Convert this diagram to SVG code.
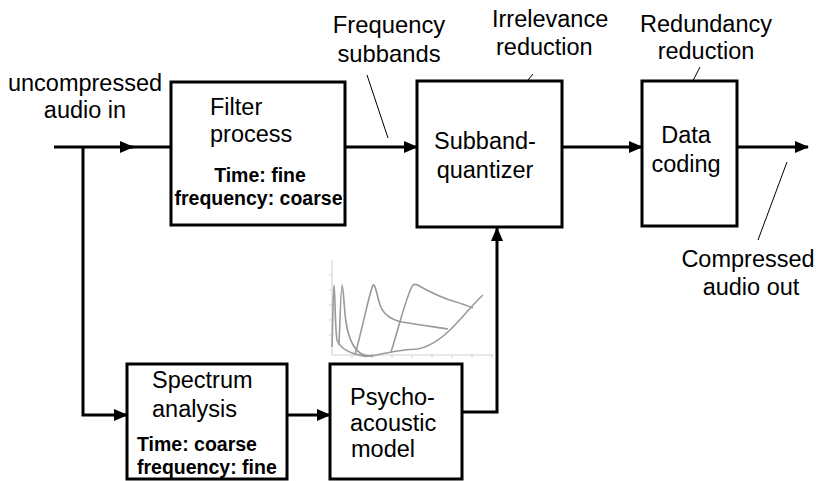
<svg xmlns="http://www.w3.org/2000/svg" width="816" height="481" viewBox="0 0 816 481">
<style>
.box{fill:#fff;stroke:#000;stroke-width:3}
.t{font-family:"Liberation Sans",Arial,sans-serif;font-size:23.5px;fill:#000}
.b{font-family:"Liberation Sans",Arial,sans-serif;font-size:19.5px;font-weight:bold;fill:#000}
.c{fill:none;stroke:#000;stroke-width:3}
.p{fill:none;stroke:#000;stroke-width:1}
.g{fill:none;stroke:#9a9a9a;stroke-width:1.6;stroke-linejoin:round}
.ax{fill:none;stroke:#d0d0d0;stroke-width:1}
</style>
<defs>
<marker id="ah" markerUnits="userSpaceOnUse" markerWidth="14" markerHeight="12" refX="13" refY="6" orient="auto">
<path d="M0,0 L14,6 L0,12 z" fill="#000"/>
</marker>
</defs>
<rect width="816" height="481" fill="#fff"/>

<g id="connectors">
<line class="c" x1="54" y1="147" x2="133" y2="147" marker-end="url(#ah)"/>
<line class="c" x1="128" y1="147" x2="171" y2="147"/>
<path class="c" d="M83,147 V415 H127" marker-end="url(#ah)"/>
<line class="c" x1="345" y1="147" x2="417" y2="147" marker-end="url(#ah)"/>
<line class="c" x1="562" y1="147" x2="642" y2="147" marker-end="url(#ah)"/>
<line class="c" x1="737" y1="147" x2="808" y2="147" marker-end="url(#ah)"/>
<line class="c" x1="287" y1="415" x2="330" y2="415" marker-end="url(#ah)"/>
<path class="c" d="M462,412 H497 V228" marker-end="url(#ah)"/>
<line class="p" x1="367" y1="75" x2="388" y2="138"/>
<line class="p" x1="533" y1="74" x2="497" y2="117"/>
<line class="p" x1="700" y1="67" x2="678" y2="110"/>
<line class="p" x1="787" y1="162" x2="758" y2="240"/>
</g>

<g id="label-in">
<text class="t" x="85" y="91" text-anchor="middle">uncompressed</text>
<text class="t" x="85" y="118" text-anchor="middle">audio in</text>
</g>
<g id="label-subbands">
<text class="t" x="389" y="33" text-anchor="middle" style="font-size:23.8px">Frequency</text>
<text class="t" x="389" y="62" text-anchor="middle" style="font-size:23.8px">subbands</text>
</g>
<g id="label-irrelevance">
<text class="t" x="492" y="27">Irrelevance</text>
<text class="t" x="496" y="55">reduction</text>
</g>
<g id="label-redundancy">
<text class="t" x="706" y="32" text-anchor="middle">Redundancy</text>
<text class="t" x="706" y="59" text-anchor="middle">reduction</text>
</g>
<g id="label-out">
<text class="t" x="748" y="267" text-anchor="middle">Compressed</text>
<text class="t" x="751" y="295" text-anchor="middle">audio out</text>
</g>

<g id="filter">
<rect class="box" x="171" y="82" width="174" height="143"/>
<text class="t" x="210" y="115">Filter</text>
<text class="t" x="210" y="142">process</text>
<text class="b" x="260" y="182" text-anchor="middle">Time: fine</text>
<text class="b" x="258.5" y="205" text-anchor="middle">frequency: coarse</text>
</g>

<g id="quantizer">
<rect class="box" x="417" y="81" width="145" height="146"/>
<text class="t" x="485" y="149" text-anchor="middle">Subband-</text>
<text class="t" x="485" y="178" text-anchor="middle">quantizer</text>
</g>

<g id="datacoding">
<rect class="box" x="642" y="81" width="95" height="145"/>
<text class="t" x="686" y="143" text-anchor="middle">Data</text>
<text class="t" x="686" y="172" text-anchor="middle">coding</text>
</g>

<g id="spectrum">
<rect class="box" x="127" y="364" width="160" height="115"/>
<text class="t" x="152" y="388">Spectrum</text>
<text class="t" x="152" y="417">analysis</text>
<text class="b" x="137" y="451">Time: coarse</text>
<text class="b" x="137" y="474">frequency: fine</text>
</g>

<g id="psycho">
<rect class="box" x="330" y="364" width="132" height="115"/>
<text class="t" x="350" y="405">Psycho-</text>
<text class="t" x="350" y="431">acoustic</text>
<text class="t" x="351" y="457">model</text>
</g>

<g id="chart">
<line class="ax" x1="332" y1="260" x2="332" y2="355"/>
<line class="ax" x1="332" y1="355" x2="493" y2="355"/>
<path class="ax" d="M352,355v3 M372,355v3 M392,355v3 M412,355v3 M432,355v3 M452,355v3 M472,355v3 M492,355v3 M329,275h3 M329,290h3 M329,305h3 M329,320h3 M329,335h3"/>
<path class="g" d="M332,347 C333,320 333,285 334,285 C335,285 335,330 337,340 C340,348 350,354 366,356.5 L373,355"/>
<path class="g" d="M339,345 C340,320 341,285 342,285 C343.5,285 344,310 346,322 C348,335 352,347 360,353 C364,356 368,356.5 372,356 C385,353 400,350 417,349 C430,347 442,338 452,328 C462,318 475,302 483,295"/>
<path class="g" d="M355,355 C362,330 370,290 373,285 C375,283 377,295 380,305 C384,316 392,320 402,322 C420,325 435,327 448,329"/>
<path class="g" d="M391,352 C398,330 408,290 413,285 C416,283 418,285 421,287 C432,293 445,299 456,302 C463,304 468,306 473,308"/>
</g>
</svg>
